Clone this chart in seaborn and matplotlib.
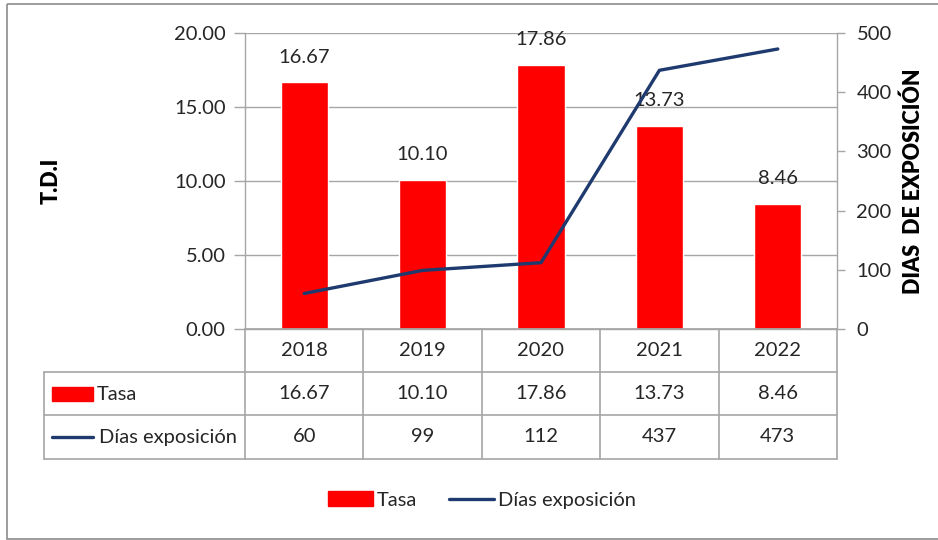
import numpy as np
import pandas as pd
import seaborn as sns
import matplotlib.pyplot as plt
from matplotlib.patches import Rectangle
from matplotlib.lines import Line2D

# datos
years = ['2018', '2019', '2020', '2021', '2022']
tasa = [16.67, 10.10, 17.86, 13.73, 8.46]
dias = [60, 99, 112, 437, 473]
tasa_ticks = [0, 5, 10, 15, 20]
dias_ticks = [0, 100, 200, 300, 400, 500]

RED = '#FF0000'
NAVY = '#1F3A6E'
GRID = '#A6A6A6'
TXT = '#262626'
FS = 14.5

W, H = 938, 540
sns.set_theme(style='white')
plt.rcParams['font.family'] = ['Lato', 'DejaVu Sans']

fig = plt.figure(figsize=(W / 100, H / 100), dpi=100)


def px_box(x0, y0, x1, y1):
    return [x0 / W, 1 - y1 / H, (x1 - x0) / W, (y1 - y0) / H]


# zona de trazado
L, T, R, B = 245, 33, 837, 329
ax = fig.add_axes(px_box(L, T, R, B))
df = pd.DataFrame({'year': years, 'tasa': tasa, 'dias': dias})
sns.barplot(data=df, x='year', y='tasa', color=RED, width=0.4, saturation=1, ax=ax, zorder=3)
ax.set_xlim(-0.5, 4.5)
ax.set_ylim(0, 20)
ax.set_yticks(tasa_ticks)
ax.set_yticklabels([f'{v:.2f}' for v in tasa_ticks], fontsize=FS, color=TXT)
ax.set_xticks([])
ax.set_xlabel('')
ax.set_ylabel('')
ax.yaxis.grid(True, color=GRID, lw=1)
ax.set_axisbelow(True)
for s in ['left', 'right', 'bottom']:
    ax.spines[s].set_color(GRID)
    ax.spines[s].set_linewidth(1)
ax.spines['top'].set_visible(False)
ax.tick_params(axis='y', direction='out', length=8, color=GRID, width=1, pad=6, left=True)

for i, v in enumerate(tasa):
    ax.annotate(f'{v:.2f}', (i, v), xytext=(0, 12), textcoords='offset points',
                ha='center', va='bottom', fontsize=FS, color=TXT, zorder=5)

ax2 = ax.twinx()
sns.lineplot(x=np.arange(len(years)), y=dias, color=NAVY, lw=2.4, ax=ax2, zorder=4)
ax2.set_ylim(0, 500)
ax2.set_yticks(dias_ticks)
ax2.set_yticklabels([str(v) for v in dias_ticks], fontsize=FS, color=TXT)
ax2.tick_params(axis='y', direction='out', length=6, color=GRID, width=1, pad=8, right=True)
for s in ax2.spines.values():
    s.set_visible(False)
ax2.set_ylabel('')

fig.text(51 / W, 1 - 181 / H, 'T.D.I', rotation=90, ha='center', va='center',
         fontsize=15.5, fontweight='heavy', color='black')
fig.text(913 / W, 1 - 181 / H, 'DIAS  DE EXPOSICIÓN', rotation=90, ha='center', va='center',
         fontsize=15.5, fontweight='heavy', color='black')

# tabla de datos
ov = fig.add_axes([0, 0, 1, 1])
ov.set_xlim(0, W)
ov.set_ylim(H, 0)
ov.axis('off')

col_w = (R - L) / len(years)
cols = [L + i * col_w for i in range(len(years) + 1)]
rows = [B, 372, 415, 459]
TL = 44
lc = dict(color=GRID, lw=1.2)
ov.plot([L, R], [rows[0], rows[0]], **lc)
for y in rows[1:]:
    ov.plot([TL, R], [y, y], **lc)
ov.plot([TL, TL], [rows[1], rows[3]], **lc)
for x in cols:
    ov.plot([x, x], [rows[0], rows[3]], **lc)

for i, yr in enumerate(years):
    cx = (cols[i] + cols[i + 1]) / 2
    ov.text(cx, (rows[0] + rows[1]) / 2, yr, ha='center', va='center', fontsize=FS, color=TXT)
    ov.text(cx, (rows[1] + rows[2]) / 2, f'{tasa[i]:.2f}', ha='center', va='center', fontsize=FS, color=TXT)
    ov.text(cx, (rows[2] + rows[3]) / 2, str(dias[i]), ha='center', va='center', fontsize=FS, color=TXT)

ov.add_patch(Rectangle((52, 387), 41, 14, color=RED))
ov.text(97, 394, 'Tasa', ha='left', va='center', fontsize=FS, color=TXT)
ov.plot([52, 93], [437, 437], color=NAVY, lw=2.4)
ov.text(99, 437, 'Días exposición', ha='left', va='center', fontsize=FS, color=TXT)

# marco exterior (borde derecho fuera de la imagen)
ov.add_patch(Rectangle((7, 4), 940, 535, fill=False, ec='#8C8C8C', lw=1.2, clip_on=False))

# leyenda inferior
handles = [Rectangle((0, 0), 1, 1, color=RED), Line2D([0], [0], color=NAVY, lw=2.4)]
fig.legend(handles, ['Tasa', 'Días exposición'], loc='center', bbox_to_anchor=(482 / W, 1 - 500 / H),
           ncol=2, frameon=False, fontsize=FS, handlelength=2.2, handleheight=0.7,
           columnspacing=1.6, handletextpad=0.2, labelcolor=TXT)

fig.savefig('out.png', dpi=100)
